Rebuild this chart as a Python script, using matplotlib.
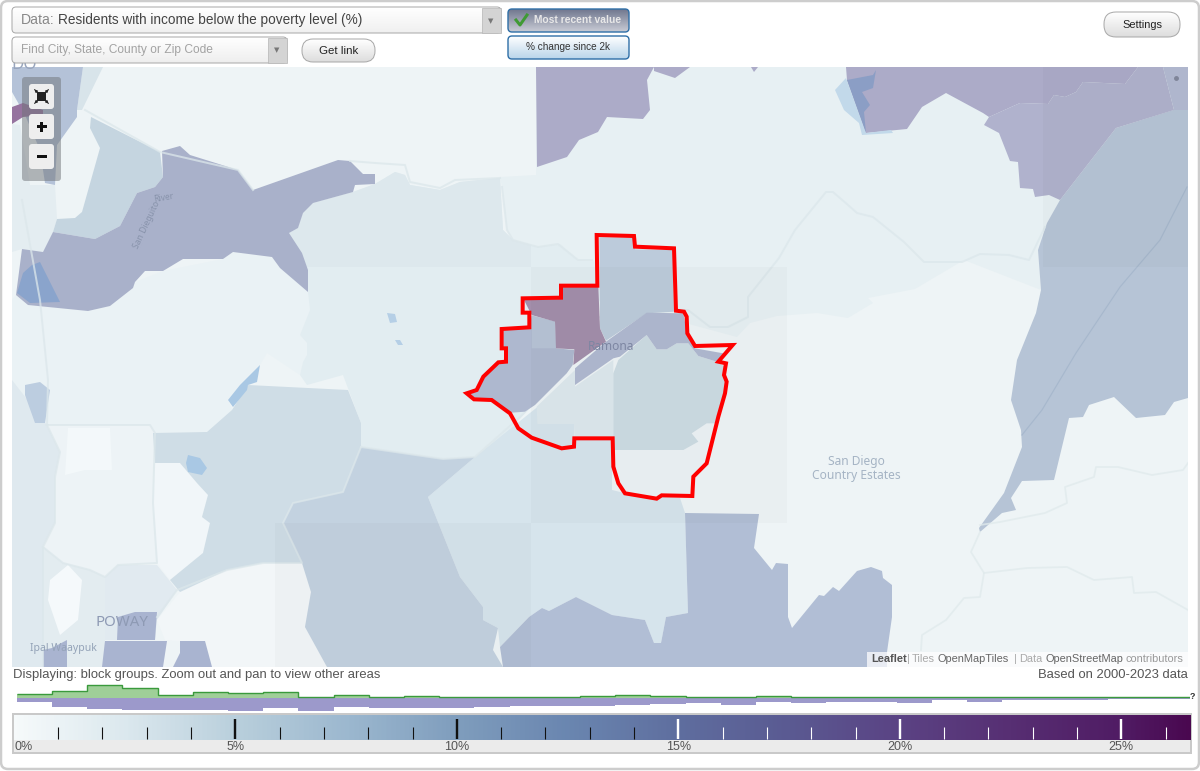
import numpy as np
import matplotlib
matplotlib.use("Agg")
import matplotlib.pyplot as plt
from matplotlib.patches import Polygon, Rectangle, FancyBboxPatch
from matplotlib.colors import LinearSegmentedColormap

# ---------- legend data ----------
hist_green = [4.0, 6.3, 12.3, 9.5, 2.7, 5.3, 4.3, 5.3, 0.4, 3.2, 0.7, 1.3, 0.7, 0.7, 0.7, 0.7, 1.3,
              2.7, 1.5, 0.7, 0.7, 1.3, 0.3, 1.0, 0.3, 1.0, 0.7, 0.3, 0.3, 0.3, 0.3, 1.0, 1.0, 0.3]
hist_purple = [4.7, 9.7, 11, 12, 12, 12, 13, 10, 13, 9, 10, 10, 10, 9.3, 8, 8, 8,
               7.5, 6.3, 5.7, 7, 4, 5.7, 4, 4, 5, 2.5, 4, 2.3, 2.3, 2.3, 1.7, 1.7, 1.3]
scale_positions = [0, 2.5, 5, 7.5, 10, 12.5, 15, 17.5, 20, 22.5, 25, 26.55]
scale_colors = ["#f6fafb", "#dbe8ee", "#b9cfdc", "#9cb8cf", "#7f9dbd", "#6a86b0", "#5f6e9f",
                "#5a5a92", "#5b4384", "#572f73", "#501c64", "#4a0850"]
major_labels = ["0%", "5%", "10%", "15%", "20%", "25%"]

# ---------- map geometry (screen position of each block group) ----------
north_band = [(536,67),(847,67),(1188,67),(1188,110),(1116,128),(1060,200),(1047,223),(1038,250),(1041,290),(964,260),
              (915,289),(868,298),(873,303),(848,318),(817,313),(777,316),(750,323),(737,337),(600,300),(578,260),
              (558,244),(538,247),(513,240),(507,230),(502,187),(500,177),(536,175)]
west_mid = [(289,233),(298,228),(303,213),(313,203),(353,192),(375,184),(395,172),(405,175),(410,185),(440,190),(460,182),
            (500,178),(503,230),(513,240),(538,247),(560,244),(578,260),(600,262),(600,300),(528,410),(510,430),(475,457),
            (443,459),(361,447),(361,423),(343,375),(307,385),(300,375),(303,362),(307,355),(307,343),(300,335),
            (310,310),(308,292),(308,270)]
northwest_low = [(16,295),(28,305),(88,311),(110,306),(133,288),(135,282),(163,271),(223,259),(233,252),(272,257),(280,268),
                 (308,292),(310,310),(300,335),(307,343),(307,355),(303,362),(300,375),(267,353),(248,385),(228,400),
                 (232,410),(207,432),(153,433),(150,425),(47,425),(12,380),(12,300)]
northwest_strip = [(12,124),(20,125),(30,185),(55,185),(57,219),(53,232),(43,252),(22,249),(12,252)]
dieguito = [(162,151),(180,146),(190,155),(238,170),(253,190),(338,160),(350,161),(363,174),(375,174),(375,184),(355,185),
            (353,192),(313,203),(303,213),(298,228),(289,233),(302,253),(308,270),(308,292),(280,268),(272,257),(233,252),
            (223,259),(183,259),(163,271),(145,271),(135,282),(133,288),(110,306),(88,311),(28,305),(16,295),(22,249),
            (43,252),(53,232),(95,239),(120,226),(137,193),(155,187),(163,177)]
dieguito_lake = [(32,265),(40,262),(60,302),(30,303),(17,293),(23,273)]
dieguito_north = [(91,117),(160,152),(163,177),(155,187),(137,193),(120,226),(95,239),(53,232),(57,219),(75,218),(82,212),(100,148),(90,128)]
corner_blue = [(12,67),(83,67),(77,110),(77,117),(57,145),(55,185),(45,183),(40,150),(25,115),(12,92)]
corner_light = [(83,67),(103,67),(82,110),(77,110)]
corner_purple = [(12,107),(23,103),(43,110),(43,115),(23,117),(12,124)]

southwest_mid = [(153,433),(207,432),(232,410),(248,385),(348,390),(361,423),(361,447),(343,492),(293,503),(283,523),(302,563),
                 (263,563),(227,570),(180,592),(170,580),(203,553),(210,523),(202,517),(208,495),(197,483),(180,463),(155,463)]
south_dark = [(361,447),(443,459),(475,457),(428,497),(460,577),(483,607),(483,620),(498,628),(493,650),(503,667),(327,667),
              (305,627),(311,592),(302,563),(283,523),(293,503),(343,492)]
south_under = [(428,497),(475,457),(540,405),(574,373),(574,440),(612,437),(612,490),(620,492),(680,498),(685,513),(688,613),
               (666,617),(661,643),(654,643),(645,620),(612,615),(576,597),(549,611),(542,608),(529,617),(500,647),(498,628),
               (483,620),(483,607),(460,577)]
south_blue = [(685,513),(759,514),(754,548),(772,570),(776,563),(788,564),(788,617),(792,628),(819,595),(824,596),(833,587),
              (839,591),(857,571),(871,567),(882,571),(883,578),(892,585),(892,617),(887,652),(887,667),(503,667),(500,647),
              (529,617),(542,608),(549,611),(576,597),(612,615),(645,620),(654,643),(661,643),(666,617),(688,613)]
east_blue = [(1060,200),(1116,128),(1183,107),(1188,110),(1188,398),(1174,402),(1165,415),(1136,418),(1114,397),(1089,405),
             (1083,417),(1069,418),(1054,480),(1022,481),(1011,498),(1016,510),(1002,513),(980,532),(979,528),(1004,493),
             (1022,447),(1021,430),(1011,400),(1017,360),(1036,313),(1041,290),(1038,250),(1047,223)]
northeast_a = [(846,67),(1138,67),(1125,84),(1083,82),(1076,92),(1065,97),(1054,95),(1048,104),(1020,103),(989,117),(983,113),
               (946,93),(922,107),(907,129),(866,133),(847,80)]
northeast_b = [(989,117),(1020,103),(1048,104),(1054,95),(1065,97),(1076,92),(1083,82),(1125,84),(1138,67),(1163,67),(1174,110),
               (1116,128),(1060,200),(1049,195),(1035,197),(1033,189),(1020,188),(1018,162),(1010,161),(999,133),(984,125)]
northeast_c = [(1163,67),(1188,67),(1188,110),(1174,110)]
north_purple = [(536,67),(654,67),(647,80),(650,110),(643,119),(607,117),(598,132),(579,140),(567,157),(537,167)]
north_purple_small = [(654,71),(675,78),(690,67),(654,67)]
north_purple_tip = [(751,67),(758,67),(754,72)]
ne_lake_light = [(846,78),(835,90),(844,110),(859,123),(862,135),(893,133),(891,130),(866,133)]
ne_lake_dark = [(847,80),(873,75),(876,70),(873,88),(862,92),(870,105),(864,112),(866,133)]

lake_a = [(387,313),(395,314),(397,322),(390,323)]
lake_b = [(395,340),(400,340),(403,345),(398,345)]
lake_c = [(260,365),(257,382),(248,385),(247,390),(233,407),(228,400),(240,385)]
lake_d = [(188,455),(200,458),(207,468),(202,475),(188,472),(186,463)]
west_patch = [(25,385),(40,382),(50,390),(45,423),(35,423),(25,395)]
poway_white_a = [(155,463),(180,463),(197,483),(208,495),(202,517),(210,523),(203,553),(170,580),(157,563),(153,503)]
poway_white_b = [(180,592),(227,570),(263,563),(302,563),(311,592),(305,627),(327,667),(212,667),(205,641),(180,641),(165,640),(157,620)]
poway_center = [(47,425),(150,425),(155,433),(153,503),(157,563),(118,565),(105,577),(90,570),(63,563),(43,547),(55,523),(55,477),(60,452)]
poway_white_c = [(68,428),(110,428),(112,470),(85,470),(65,475)]
poway_south = [(105,577),(118,565),(157,565),(177,590),(157,620),(155,640),(105,640)]
poway_west = [(43,547),(63,563),(90,570),(105,577),(105,667),(43,667)]
poway_white_d = [(68,565),(82,580),(78,620),(60,635),(48,600),(50,580)]
coast = [(12,380),(47,425),(60,452),(55,477),(55,523),(43,547),(43,667),(12,667)]
poway_dark_a = [(117,640),(118,617),(135,612),(157,612),(155,640)]
poway_dark_b = [(105,641),(167,641),(163,667),(102,667)]
poway_dark_c = [(180,641),(205,641),(212,667),(173,667),(180,653)]
poway_dark_d = [(52,648),(67,640),(67,667),(43,667),(43,650)]

# block groups inside the outlined area, in 3x crop coordinates of the area
ramona_purple = [(222,240),(333,237),(337,200),(445,200),(450,325),(468,365),(370,435),(373,388),(318,385),(315,305),(245,285)]
ramona_west = [(160,330),(238,325),(245,287),(315,305),(318,385),(373,390),(368,435),(350,460),(255,555),(225,575),(185,578),
               (128,540),(75,535),(60,520),(85,510),(103,470),(148,430),(172,428),(172,385),(160,385)]
ramona_west_light = [(245,287),(315,305),(318,385),(245,385)]
ramona_north = [(448,52),(550,52),(555,88),(668,90),(672,275),(590,280),(468,362),(450,325)]
ramona_strip = [(375,495),(375,445),(468,365),(590,278),(700,280),(712,345),(735,385),(820,400),(800,425),(745,408),(715,370),
                (680,370),(650,388),(620,388),(590,345),(510,410),(490,415)]
ramona_south = [(490,690),(490,460),(505,420),(590,345),(620,388),(650,388),(680,370),(715,370),(745,408),(800,425),(825,440),
                (830,490),(815,540),(795,610),(770,610),(725,640),(745,665),(700,690)]
ramona_mid = [(260,560),(375,450),(375,500),(490,420),(490,650),(373,650),(372,612),(262,612)]
ramona_bottom = [(490,690),(700,690),(745,665),(725,640),(770,610),(795,610),(770,730),(730,770),(727,828),(635,826),(620,836),
                 (525,820),(505,790),(490,740)]
ramona_outline = [(440,45),(552,48),(555,80),(672,85),(678,272),(702,275),(710,290),(712,340),(735,378),(848,375),(805,425),
                  (828,430),(822,465),(830,485),(825,520),(805,590),(770,730),(730,770),(727,828),(635,826),(620,836),(525,820),
                  (505,790),(490,740),(488,655),(373,655),(372,680),(335,685),(245,653),(205,625),(180,580),(125,540),(72,538),
                  (50,520),(80,510),(100,470),(145,427),(168,425),(168,385),(155,385),(155,327),(238,322),(238,278),(218,278),
                  (218,235),(333,233),(333,197),(442,197)]

road_ramona = [(502,187),(507,230),(513,240),(538,247),(558,244),(578,260),(592,260)]
road_east = [(674,310),(688,310),(710,327),(728,327),(748,317),(748,297),(779,258),(795,230),(826,192),(833,192),(848,205),
             (857,213),(873,217),(904,242),(924,262),(962,262),(980,254),(1009,255),(1029,260),(1045,227)]
road_north = [(85,110),(160,152),(238,170),(253,190)]
road_c = [(350,161),(375,163),(405,165),(410,182),(440,188),(455,180),(500,178)]
road_d = [(361,447),(443,459),(475,457),(520,417),(574,362)]
road_e = [(361,447),(343,492),(293,503),(283,523),(302,563),(263,563),(227,570),(177,590),(157,617)]
road_f = [(47,425),(150,425),(155,433),(153,503),(157,563),(118,565),(105,577),(90,570),(63,563),(43,547),(43,667)]
road_g = [(47,425),(60,452),(55,477),(55,523),(43,547)]
road_h = [(980,532),(971,552),(984,573),(980,597),(964,598),(946,620),(922,635),(921,650)]
road_i = [(984,573),(1027,568),(1067,567),(1094,580),(1132,577),(1134,593),(1156,592),(1188,610)]
road_j = [(980,525),(1000,522),(1045,513),(1067,503),(1065,487),(1094,477),(1096,467),(1118,467),(1152,475),(1183,470),(1188,463)]
road_k = [(22,200),(40,300),(48,380),(47,425)]
east_creek = [(1187,187),(1160,240),(1120,287),(1076,353),(1042,410),(1022,435)]
ramona_road = [(470,398),(530,360),(590,318),(650,312)]

# ---------- figure ----------
plt.rcParams["font.family"] = ["Liberation Sans", "DejaVu Sans"]
fig = plt.figure(figsize=(12, 7.71), dpi=100, facecolor="white")
ax = fig.add_axes([0, 0, 1, 1])
ax.set_xlim(0, 1200); ax.set_ylim(771, 0); ax.axis("off")

def px(v):
    return v * 0.72

map_rect = Rectangle((12, 67), 1176, 600, transform=ax.transData)

def poly(points, color, z=2, alpha=1.0, clip=None):
    p = Polygon(points, closed=True, facecolor=color, edgecolor="none", alpha=alpha, zorder=z)
    ax.add_patch(p)
    p.set_clip_path(clip if clip is not None else map_rect)
    return p

def rpoly(points, color, z=6, alpha=1.0):
    return poly([(450 + x / 3, 220 + y / 3) for x, y in points], color, z, alpha)

def road(points, color="#dce7eb", lw=2.0, z=4, alpha=0.75):
    ln, = ax.plot(*zip(*points), color=color, lw=px(lw), alpha=alpha, zorder=z, solid_joinstyle="round")
    ln.set_clip_path(map_rect)

def gradient_box(x0, y0, x1, y1, top, bottom, edge, lw=1.0, rad=4, z=20):
    box = FancyBboxPatch((x0, y0), x1 - x0, y1 - y0, boxstyle=f"round,pad=0,rounding_size={rad}",
                         facecolor="none", edgecolor=edge, lw=px(lw), zorder=z + 0.2)
    ax.add_patch(box)
    cm = LinearSegmentedColormap.from_list("g", [top, bottom])
    im = ax.imshow(np.linspace(0, 1, 64).reshape(-1, 1), extent=(x0, x1, y1, y0), cmap=cm, aspect="auto", zorder=z)
    clip = FancyBboxPatch((x0, y0), x1 - x0, y1 - y0, boxstyle=f"round,pad=0,rounding_size={rad}", transform=ax.transData)
    im.set_clip_path(clip)

# page frame
ax.add_patch(FancyBboxPatch((1, 1), 1198, 768, boxstyle="round,pad=0,rounding_size=7", facecolor="white",
                            edgecolor="#cdcdcd", lw=px(2.5), zorder=0))

# base map
ax.add_patch(Rectangle((12, 67), 1176, 600, facecolor="#eef4f6", edgecolor="none", zorder=1))
poly(north_band, "#e7f0f3", 2)
poly(northwest_low, "#eaf2f5", 2)
poly(northwest_strip, "#e4edf1", 2)
poly(west_mid, "#e2edf1", 2)
upper_clip = Rectangle((275, 67), 256, 200, transform=ax.transData)
poly(west_mid, "#dde8ed", 2.1, clip=upper_clip)
poly(coast, "#dfe9ef", 2)
poly(poway_center, "#edf3f6", 2)
poly(poway_white_c, "#f3f8fa", 2.1)
poly(poway_south, "#e1eaf0", 2)
poly(poway_west, "#e3ecf0", 2)
poly(poway_white_d, "#f5f9fb", 2.1)
poly(poway_white_a, "#f1f6f9", 2)
poly(poway_white_b, "#f2f6f8", 2)
poly(west_patch, "#bccde0", 2.2)
poly(southwest_mid, "#cfdde6", 2.2)
poly(south_under, "#d6e4ec", 2.3)
poly(south_dark, "#c3d2e0", 2.3)
poly(south_blue, "#b1bed5", 2.4)
poly(east_blue, "#b6c4d6", 2.4)
poly(northeast_a, "#acabc8", 2.4)
poly(northeast_b, "#b0b2cd", 2.4)
poly(northeast_c, "#b3bad2", 2.4)
poly(north_purple, "#acabc8", 2.4)
poly(north_purple_small, "#acabc8", 2.4)
poly(north_purple_tip, "#acabc8", 2.4)
poly(ne_lake_light, "#c2d9ea", 2.5)
poly(ne_lake_dark, "#8b9ec5", 2.6)
poly(dieguito_north, "#c5d5e0", 2.4)
poly(dieguito, "#a9b1ca", 2.5)
poly(dieguito_lake, "#8aa4cc", 2.6)
poly(corner_light, "#d8e4ea", 2.4)
poly(corner_blue, "#b4c2d8", 2.4)
poly(corner_purple, "#96739f", 2.6)
for lk in (lake_a, lake_b):
    poly(lk, "#b5cfe6", 2.6)
for lk in (lake_c, lake_d):
    poly(lk, "#a9c8e4", 2.6)
for pd in (poway_dark_a, poway_dark_b, poway_dark_c, poway_dark_d):
    poly(pd, "#a9b4d0", 2.6)

# roads
for r in (road_ramona, road_east, road_north, road_c, road_d, road_e, road_f, road_g, road_k, ramona_road):
    road(r)
for r in (road_h, road_i, road_j):
    road(r, color="#e0eaec", lw=1.8)
road(east_creek, color="#a7b8cd", lw=1.2, alpha=1)

# the outlined place
rpoly(ramona_mid, "#dde8ed", 5)
rpoly(ramona_bottom, "#ecf2f5", 5)
rpoly(ramona_south, "#cddce3", 5.5)
rpoly(ramona_north, "#bccbdb", 5.5)
rpoly(ramona_strip, "#b0b9d1", 5.6)
rpoly(ramona_west, "#aeb8cf", 5.6)
rpoly(ramona_west_light, "#b7c3d6", 5.65)
rpoly(ramona_purple, "#a38eab", 5.7)

# tile seams
for x0, y0, w, h in ((531, 267, 256, 256), (275, 523, 256, 144), (1043, 67, 145, 200)):
    ax.add_patch(Rectangle((x0, y0), w, h, facecolor="#000000", alpha=0.02, edgecolor="none", zorder=7))
ax.plot(1176, 78, "o", ms=2.5, color="#7f8599", zorder=7)

# place labels
map_font = ["Noto Sans", "DejaVu Sans"]
t = ax.text(24, 65, "DO", fontsize=px(17), color="#98a5bd", ha="center", va="center", family=map_font, zorder=8)
t.set_clip_path(map_rect)
ax.text(611, 347, "Ramona", fontsize=px(12), color="#7d86a2", ha="center", va="center", family=map_font, zorder=8)
ax.text(856, 462, "San Diego", fontsize=px(12), color="#a5b4c4", ha="center", va="center", family=map_font, zorder=8)
ax.text(856, 476, "Country Estates", fontsize=px(12), color="#a5b4c4", ha="center", va="center", family=map_font, zorder=8)
ax.text(122, 622, "POWAY", fontsize=px(15), color="#8e9ab4", ha="center", va="center", family=map_font, zorder=8)
ax.text(63, 649, "Ipal Waaypuk", fontsize=px(10.5), color="#94a3b8", ha="center", va="center", family=map_font, zorder=8)
ax.text(147, 225, "San Dieguito", fontsize=px(8.5), color="#8893ab", ha="center", va="center", rotation=65,
        rotation_mode="anchor", family=map_font, zorder=8)
ax.text(164, 198, "River", fontsize=px(8.5), color="#8893ab", ha="center", va="center", rotation=10,
        rotation_mode="anchor", family=map_font, zorder=8)

# outline
ax.add_patch(Polygon([(450 + x / 3, 220 + y / 3) for x, y in ramona_outline], closed=True, fill=False,
                     edgecolor="#ff0000", lw=px(4), joinstyle="miter", zorder=9))

# zoom controls
ax.add_patch(FancyBboxPatch((22, 77), 39, 104, boxstyle="round,pad=0,rounding_size=3", facecolor="#6f7378",
                            edgecolor="none", alpha=0.5, zorder=10))
for y0 in (84, 114, 144):
    ax.add_patch(FancyBboxPatch((29, y0), 25, 25, boxstyle="round,pad=0,rounding_size=3", facecolor="#eeeeee",
                                edgecolor="none", zorder=11))
ax.add_patch(Rectangle((36.5, 125), 10, 3, facecolor="#111111", zorder=12))
ax.add_patch(Rectangle((40, 121.5), 3, 10, facecolor="#111111", zorder=12))
ax.add_patch(Rectangle((36.5, 155), 10, 3, facecolor="#111111", zorder=12))
ax.add_patch(Rectangle((37, 92), 9, 9, facecolor="#222222", zorder=12))
for sx, sy in ((-1, -1), (1, -1), (-1, 1), (1, 1)):
    ax.annotate("", xy=(41.5 + sx * 9, 96.5 + sy * 9), xytext=(41.5 + sx * 5, 96.5 + sy * 5),
                arrowprops=dict(arrowstyle="-|>", lw=0.7, color="#222222", mutation_scale=4), zorder=12)

# attribution
ax.add_patch(Rectangle((867, 652), 321, 15, facecolor="white", alpha=0.72, edgecolor="none", zorder=10))
attr_words = ["Leaflet", "|", "Tiles", "OpenMapTiles", "|", "Data", "OpenStreetMap", "contributors"]
attr_x = [871, 907, 912, 938, 1014, 1019, 1045, 1126]
attr_col = ["#555555", "#aaaaaa", "#aaaaaa", "#666666", "#aaaaaa", "#aaaaaa", "#666666", "#999999"]
for w, x, c in zip(attr_words, attr_x, attr_col):
    ax.text(x, 659.5, w, fontsize=px(11), color=c, ha="left", va="center", zorder=11,
            fontweight="bold" if w == "Leaflet" else "normal")

# top controls
gradient_box(12, 7, 501, 33, "#ffffff", "#f0f0f0", "#a9a9a9")
ax.add_patch(Rectangle((482, 8), 18.5, 24.5, facecolor="#d4d4d4", edgecolor="#b5b5b5", lw=0.5, zorder=21))
ax.text(491, 21, "▼", fontsize=px(7), color="#777777", ha="center", va="center", family="DejaVu Sans", zorder=22)
ax.text(21, 20, "Data:", fontsize=px(14), color="#888888", ha="left", va="center", zorder=22)
ax.text(58, 20, "Residents with income below the poverty level (%)", fontsize=px(13.6), color="#444444",
        ha="left", va="center", zorder=22)

gradient_box(12, 37, 287, 63, "#ffffff", "#eeeeee", "#a9a9a9")
ax.add_patch(Rectangle((268, 38), 18.5, 24.5, facecolor="#d4d4d4", edgecolor="#b5b5b5", lw=0.5, zorder=21))
ax.text(277, 50, "▼", fontsize=px(7), color="#777777", ha="center", va="center", family="DejaVu Sans", zorder=22)
ax.text(21, 50, "Find City, State, County or Zip Code", fontsize=px(12), color="#a3a3a3", ha="left", va="center", zorder=22)

gradient_box(302, 39, 375, 62, "#ffffff", "#dddddd", "#a9a9a9", rad=11)
ax.text(338.5, 50.5, "Get link", fontsize=px(11.5), color="#222222", ha="center", va="center", zorder=22)

gradient_box(508, 9, 629, 32, "#70778e", "#c9ccd6", "#2f6fa7", lw=1.4)
ax.text(534, 20, "Most recent value", fontsize=px(10.2), fontweight="bold", color="#e8e8e8", ha="left", va="center", zorder=22)
ax.plot([516, 520, 527], [20, 25, 15], color="#3f9a34", lw=px(3), zorder=22)

gradient_box(508, 36, 629, 59, "#ffffff", "#b9d5ea", "#2f6fa7", lw=1.4)
ax.text(568.5, 47, "% change since 2k", fontsize=px(10), color="#333333", ha="center", va="center", zorder=22)

gradient_box(1104, 12, 1180, 37, "#ffffff", "#dddddd", "#a9a9a9", rad=12)
ax.text(1142, 24.5, "Settings", fontsize=px(11), color="#222222", ha="center", va="center", zorder=22)

# status lines
ax.text(13, 675, "Displaying: block groups. Zoom out and pan to view other areas", fontsize=px(13), color="#555555",
        ha="left", va="center", zorder=12)
ax.text(1188, 675, "Based on 2000-2023 data", fontsize=px(13), color="#555555", ha="right", va="center", zorder=12)
ax.text(1192, 696.5, "?", fontsize=px(9), fontweight="bold", color="#333333", ha="center", va="center", zorder=12)

ax.set_xlim(0, 1200); ax.set_ylim(771, 0)

# ---------- legend: histogram and colour scale, on percent axes ----------
PCT0, PCT_PER = 13.8, 44.3      # pixel of 0 %, pixels per 1 %
PCT_MAX = scale_positions[-1]
BIN = 35.2 / PCT_PER
BIN0 = (16.8 - PCT0) / PCT_PER

def add_axes_px(x0, y0, x1, y1, z=6):
    a = fig.add_axes([x0 / 1200, 1 - y1 / 771, (x1 - x0) / 1200, (y1 - y0) / 771])
    a.axis("off")
    a.set_zorder(z)
    return a

hax = add_axes_px(PCT0, 684, 1190, 712)
hax.set_xlim(0, PCT_MAX); hax.set_ylim(-14.3, 13.7)
n = len(hist_green)
edges = np.minimum(BIN0 + BIN * np.arange(n + 1), PCT_MAX)
widths = np.diff(edges)
hax.bar(edges[:-1], hist_green, width=widths, align="edge", color="#9fcf98", linewidth=0, zorder=2)
hax.bar(edges[:-1], -np.array(hist_purple), width=widths, align="edge", color="#9c99cb", linewidth=0, zorder=2)
hax.stairs(hist_green, edges, baseline=None, color="#3a9a3c", lw=px(1.4), zorder=3)

frame = add_axes_px(12, 713, 1192, 754, z=5)
frame.set_xlim(0, 1); frame.set_ylim(0, 1)
frame.add_patch(Rectangle((0, 0), 1, 1, facecolor="#ebebeb", edgecolor="#c9c9c9", lw=px(4)))

cax = add_axes_px(PCT0, 715, 1190, 740)
scale_cmap = LinearSegmentedColormap.from_list("scale", [(p / PCT_MAX, c) for p, c in zip(scale_positions, scale_colors)])
cax.imshow(np.linspace(0, 1, 512).reshape(1, -1), extent=(0, PCT_MAX, 0, 1), cmap=scale_cmap, aspect="auto", vmin=0, vmax=1)
cax.set_xlim(0, PCT_MAX); cax.set_ylim(0, 1)
for pct in range(1, 27):
    major = pct % 5 == 0
    col = "#111111" if pct < 15 else "#ffffff"
    cax.plot([pct, pct], [0.04, 0.84 if major else 0.52], color=col, lw=px(2.4 if major else 1.1), solid_capstyle="butt")

txt_ax = add_axes_px(0, 0, 1200, 771, z=7)
txt_ax.set_xlim(0, 1200); txt_ax.set_ylim(771, 0)
for i, lab in enumerate(major_labels):
    x = PCT0 + i * 5 * PCT_PER
    txt_ax.text(x if i else 14.5, 747, lab, fontsize=px(12.5), color="#555555", ha="center" if i else "left", va="center")

fig.savefig("out.png", dpi=100, facecolor="white")
